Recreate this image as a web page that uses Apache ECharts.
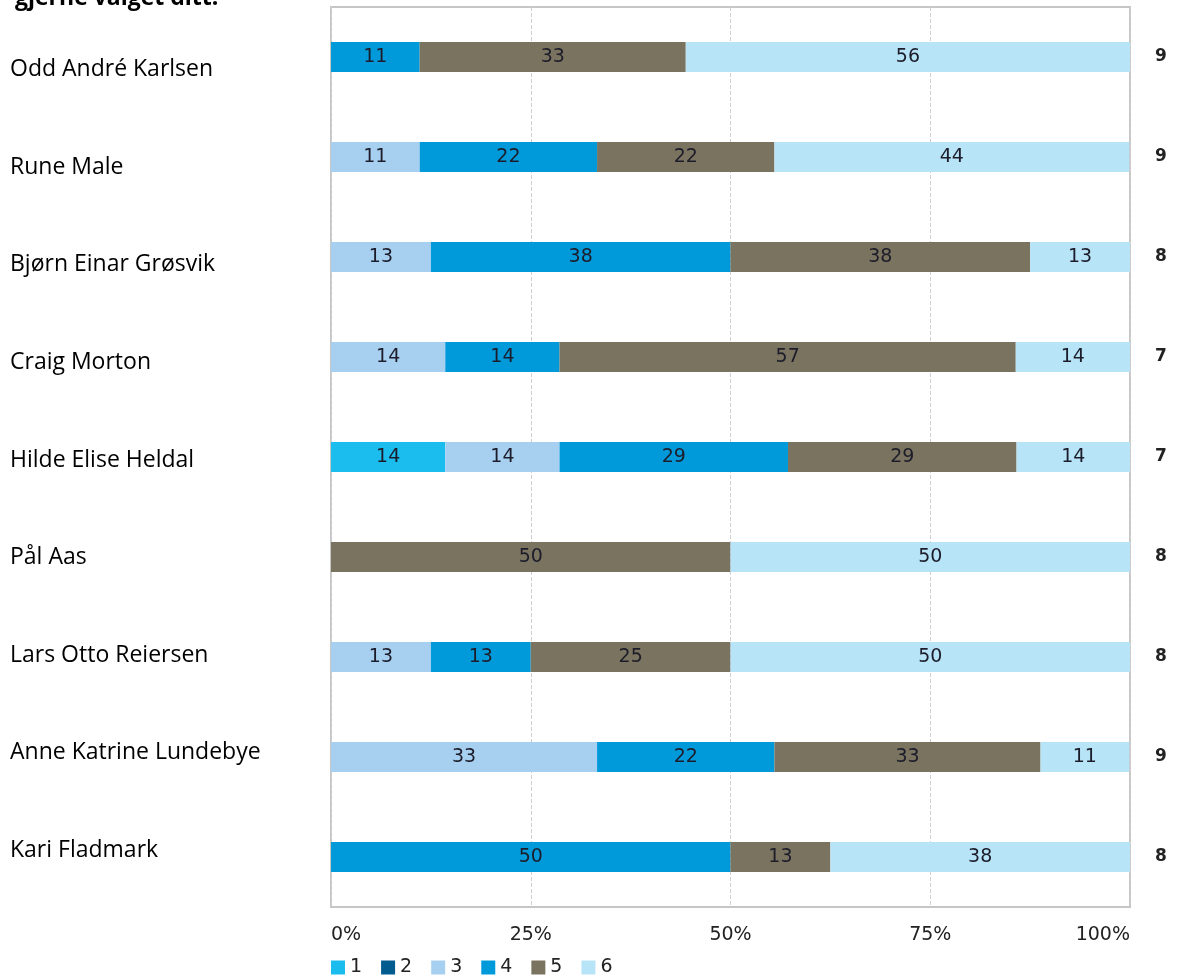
<!DOCTYPE html>
<html><head><meta charset="utf-8">
<script src="https://cdn.jsdelivr.net/npm/echarts@6/dist/echarts.min.js"></script>
<style>html,body{margin:0;padding:0;background:#fff}#c{width:1202px;height:977px}</style>
</head><body><div id="c"></div>
<script>
const categories = ["Odd André Karlsen","Rune Male","Bjørn Einar Grøsvik","Craig Morton","Hilde Elise Heldal","Pål Aas","Lars Otto Reiersen","Anne Katrine Lundebye","Kari Fladmark"];
const counts = ["9","9","8","7","7","8","8","9","8"];
const seriesNames = ["1","2","3","4","5","6"];
const s1 = [null,null,null,null,14.3,null,null,null,null];
const s2 = [null,null,null,null,null,null,null,null,null];
const s3 = [null,11.1,12.5,14.3,14.3,null,12.5,33.3,null];
const s4 = [11.1,22.2,37.5,14.3,28.6,null,12.5,22.2,50];
const s5 = [33.3,22.2,37.5,57.1,28.6,50,25,33.3,12.5];
const s6 = [55.6,44.4,12.5,14.3,14.3,50,50,11.1,37.5];
const tickValues = [0,25,50,75,100];
const colors = ["#1bbcee","#005b8e","#a7d0f0","#009adb","#7a735f","#b8e4f8"];
const allSeries = [s1,s2,s3,s4,s5,s6];

const chart = echarts.init(document.getElementById('c'));
chart.setOption({
  animation:false,
  title:{text:"gjerne valget ditt.",left:10,top:-18,textStyle:{fontFamily:"Open Sans",fontSize:23,fontWeight:"bold",color:"#000"}},
  legend:{left:326,top:953,itemWidth:14,itemHeight:14,itemGap:19,icon:"rect",
    textStyle:{fontFamily:"DejaVu Sans",fontSize:19,color:"#222"},data:seriesNames},
  grid:[
    {left:331,right:72,top:7,bottom:70,show:true,borderColor:"#c6c6c6",borderWidth:2,containLabel:false},
    {left:331,right:72,top:21,bottom:78,show:false,containLabel:false}
  ],
  xAxis:[
    {type:"value",gridIndex:0,min:0,max:100,interval:25,
    axisLine:{show:false},axisTick:{show:false},
    splitLine:{show:true,lineStyle:{type:"dashed",color:"#cfcfcf",width:1}},
    axisLabel:{formatter:v=>tickValues.includes(v)?v+"%":"",fontFamily:"DejaVu Sans",fontSize:19,color:"#222",margin:19,
      alignMinLabel:"left",alignMaxLabel:"right"}},
    {type:"value",gridIndex:1,min:0,max:100,show:false}
  ],
  yAxis:[
    {type:"category",gridIndex:0,data:categories,inverse:true,axisLine:{show:false},axisTick:{show:false},
     axisLabel:{show:false}},
    {type:"category",gridIndex:0,data:counts,inverse:true,position:"right",axisLine:{show:false},axisTick:{show:false},
     axisLabel:{align:"left",margin:25,fontFamily:"DejaVu Sans",fontWeight:"bold",fontSize:17,color:"#222"}},
    {type:"category",gridIndex:1,data:categories,inverse:true,axisLine:{show:false},axisTick:{show:false},splitLine:{show:false},
     axisLabel:{align:"left",margin:321,fontFamily:"Open Sans",fontSize:23,color:"#000"}}
  ],
  series: allSeries.map((d,i)=>({
    name:seriesNames[i],type:"bar",stack:"total",barWidth:30,data:d,xAxisIndex:0,yAxisIndex:0,
    itemStyle:{color:colors[i]},
    label:{show:true,position:"inside",formatter:p=>p.value==null?"":String(Math.round(p.value)),
      fontFamily:"DejaVu Sans",fontSize:19,color:"#1c1c2a"}
  }))
});
</script></body></html>
